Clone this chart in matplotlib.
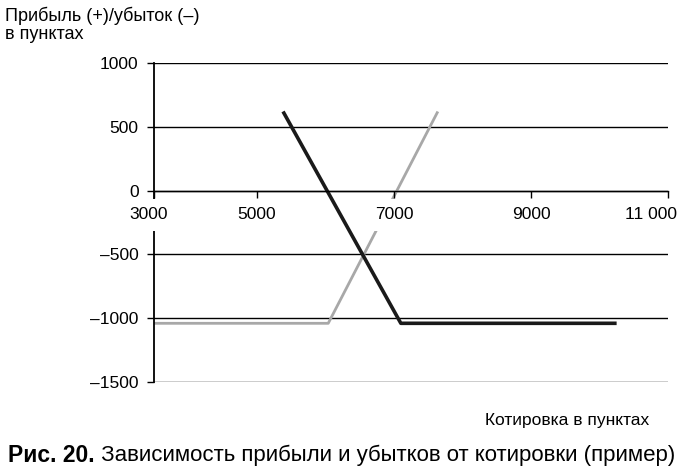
import numpy as np
import matplotlib
matplotlib.use('Agg')
import matplotlib.pyplot as plt
from matplotlib.transforms import ScaledTranslation

plt.rcParams['font.family'] = ['Liberation Sans', 'DejaVu Sans']

# данные (котировка, прибыль/убыток)
put_x = [5380, 7100, 10250]
put_y = [620, -1040, -1040]
call_x = [3000, 6040, 7640]
call_y = [-1040, -1040, 620]

x_ticks = [3000, 5000, 7000, 9000, 11000]
x_ticklabels = ['3000', '5000', '7000', '9000', '11 000']
y_ticks = [-1500, -1000, -500, 0, 500, 1000]
y_ticklabels = ['–1500', '–1000', '–500', '0', '500', '1000']

ylabel_text = 'Прибыль (+)/убыток (–)\nв пунктах'
xlabel_text = 'Котировка в пунктах'
caption_bold = 'Рис. 20.'
caption_text = ' Зависимость прибыли и убытков от котировки (пример)'


# ось X в оригинале неравномерная: первый отрезок сжат
def fwd(v):
    v = np.asarray(v, float)
    return np.where(v < 5000, (v - 3000) * 103 / 2000, 103 + (v - 5000) * 411 / 6000)


def inv(p):
    p = np.asarray(p, float)
    return np.where(p < 103, 3000 + p * 2000 / 103, 5000 + (p - 103) * 6000 / 411)


fig = plt.figure(figsize=(7, 4.72), dpi=100)
ax = fig.add_axes([154 / 700, 1 - 382 / 472, 514 / 700, 319 / 472])

ax.set_xscale('function', functions=(fwd, inv))
ax.set_xlim(3000, 11000)
ax.set_ylim(-1500, 1000)

ax.plot(call_x, call_y, color='#a8a8a8', lw=2.0, zorder=2, solid_capstyle='butt')
ax.plot(put_x, put_y, color='#1a1a1a', lw=2.6, zorder=2.2, solid_capstyle='butt')

ax.set_axisbelow(True)
ax.grid(axis='y', color='black', lw=1.0)
ax.grid(axis='x', visible=False)

for s in ['top', 'right']:
    ax.spines[s].set_visible(False)
ax.spines['left'].set_linewidth(1.3)
ax.spines['bottom'].set_position(('data', 0))
ax.spines['bottom'].set_linewidth(1.0)

ax.set_yticks(y_ticks, labels=y_ticklabels)
ax.set_xticks(x_ticks, labels=x_ticklabels,
              bbox=dict(facecolor='white', edgecolor='none', pad=5))
ax.xaxis.set_zorder(3)
ax.tick_params(axis='y', direction='out', length=5, width=1, pad=6, labelsize=12.5)
ax.tick_params(axis='x', direction='out', length=5, width=1, pad=7, labelsize=12.5)

# подписи крайних делений сдвинуты влево, как в оригинале
shifts = {0: -5, len(x_ticks) - 1: -17}
for i, lbl in enumerate(ax.get_xticklabels()):
    if i in shifts:
        lbl.set_transform(lbl.get_transform() +
                          ScaledTranslation(shifts[i] / 100, 0, fig.dpi_scale_trans))

fig.text(5 / 700, 1 - 7 / 472, ylabel_text, ha='left', va='top', fontsize=13,
         linespacing=1.05)
fig.text(649 / 700, 1 - 421 / 472, xlabel_text, ha='right', va='center', fontsize=12.5)

t1 = fig.text(8 / 700, 1 - 455 / 472, caption_bold, ha='left', va='center',
              fontsize=16.5, fontweight='bold')
fig.canvas.draw()
bb = t1.get_window_extent()
fig.text(bb.x1 / fig.bbox.width, 1 - 455 / 472, caption_text, ha='left', va='center',
         fontsize=16)

fig.savefig('out.png', dpi=100)
